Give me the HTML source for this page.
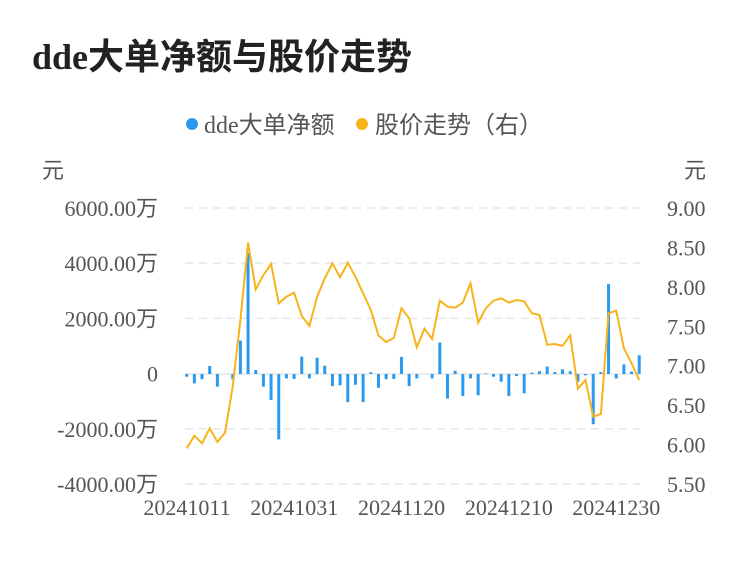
<!DOCTYPE html>
<html><head><meta charset="utf-8"><style>
body{margin:0;background:#fff;width:750px;height:558px;overflow:hidden}
</style></head><body>
<svg id="s" width="750" height="558" xmlns="http://www.w3.org/2000/svg" font-family="Liberation Serif, 'Noto Serif CJK SC', serif">
<text x="32" y="69" font-size="36" font-weight="bold" fill="#222" font-family="Liberation Serif, 'Noto Sans CJK SC', serif">dde大单净额与股价走势</text>
<circle cx="192" cy="124" r="6" fill="#2a9af0"/>
<text x="204" y="133" font-size="24" fill="#555" font-family="Liberation Serif, 'Noto Sans CJK SC', serif">dde大单净额</text>
<circle cx="362" cy="124" r="6" fill="#f7b31b"/>
<text x="375" y="133" font-size="24" fill="#555" font-family="Liberation Serif, 'Noto Sans CJK SC', serif">股价走势（右）</text>
<text x="42" y="178" font-size="22" fill="#555" font-family="Liberation Serif, 'Noto Sans CJK SC', serif">元</text>
<text x="684" y="178" font-size="22" fill="#555" font-family="Liberation Serif, 'Noto Sans CJK SC', serif">元</text>
<g id="g"></g>
</svg>
<script>
var g=document.getElementById('g'),h='';
var L=['6000.00万','4000.00万','2000.00万','0','-2000.00万','-4000.00万'],R=['9.00','8.50','8.00','7.50','7.00','6.50','6.00','5.50'];
for(var i=0;i<6;i++){var y=208+i*55.2;
if(i!=3)h+='<line x1="185" x2="640" y1="'+y+'" y2="'+y+'" stroke="#e6e6e6" stroke-width="1.5" stroke-dasharray="8,6"/>';
h+='<text x="158" y="'+(y+8)+'" font-size="22" fill="#555" text-anchor="end" font-family="Liberation Serif, \'Noto Sans CJK SC\', serif">'+L[i]+'</text>';}
h+='<line x1="185" x2="640" y1="374" y2="374" stroke="#e6e6e6" stroke-width="1.5"/>';
for(var i=0;i<8;i++){var y=208+i*39.43;h+='<text x="667" y="'+(y+8)+'" font-size="22" fill="#555">'+R[i]+'</text>';}
var X=['20241011','20241031','20241120','20241210','20241230'];
for(var i=0;i<5;i++)h+='<text x="'+(187+i*107.3)+'" y="515" font-size="22" fill="#555" text-anchor="middle">'+X[i]+'</text>';
var B=[-100,-340,-190,290,-460,0,-190,1210,4380,145,-460,-940,-2370,-160,-180,630,-160,590,300,-440,-410,-1020,-390,-1020,60,-500,-190,-180,620,-440,
-160,0,-160,1140,-890,120,-800,-160,-770,20,-100,-280,-800,-70,-700,50,100,270,70,170,100,-280,-50,-1820,70,3260,-160,350,90,680];
var P=[448.3,435.7,443.3,428.3,442,432.7,386.7,320,242.7,289.3,275,264,303.3,296.7,292.7,316,326,296.7,278.3,263.3,277.3,262.7,276.7,293.3,310,335.3,342,338,308.3,318.3,
347.3,328.7,339,300.7,306.7,307.7,302.7,283.3,322.7,308.3,300.7,298.3,302.7,300,301.3,313.3,315,344.7,344,346,335.3,388.7,380,416.7,414,313.3,310.7,348.3,363.3,380];
var pts=[];
for(var i=0;i<60;i++){var x=186.7+7.67*i,v=B[i]*55.2/2000,y=v>0?374-v:374,hh=Math.abs(v);
if(hh>0.5)h+='<rect x="'+(x-1.5)+'" y="'+y+'" width="3" height="'+hh+'" fill="#2a9af0"/>';
pts.push(x.toFixed(1)+','+P[i]);}
h+='<polyline points="'+pts.join(' ')+'" fill="none" stroke="#f7b31b" stroke-width="2"/>';
g.innerHTML=h;
</script>
</body></html>
